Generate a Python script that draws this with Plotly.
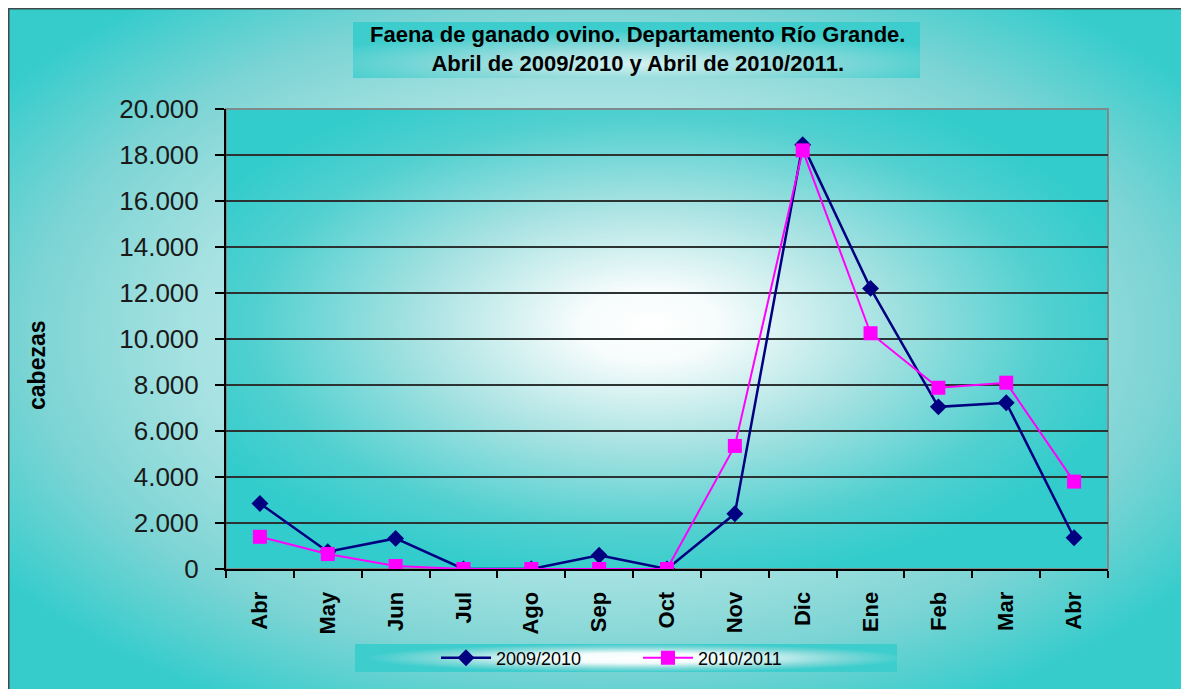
import base64
import plotly.graph_objects as go

# ---- data ----
months = ["Abr", "May", "Jun", "Jul", "Ago", "Sep", "Oct", "Nov", "Dic", "Ene", "Feb", "Mar", "Abr"]
serie_2009_2010 = [2850, 750, 1330, 0, 0, 600, 0, 2400, 18450, 12200, 7050, 7230, 1360]
serie_2010_2011 = [1400, 650, 130, 0, 0, 0, 0, 5350, 18200, 10250, 7880, 8100, 3800]
y_ticks = [0, 2000, 4000, 6000, 8000, 10000, 12000, 14000, 16000, 18000, 20000]

# ---- layout geometry (page pixels; the page body has an 8px margin) ----
OFF = 8
PW, PH = 1189, 689
FW, FH = PW - OFF, PH - OFF
L, T, R, B = 226, 109, 1108, 569          # plot area, page coordinates
W, H = R - L, B - T


def fx(px):
    return (px - L) / W


def fy(py):
    return 1 - (py - T) / H


def svg_uri(svg):
    return "data:image/svg+xml;base64," + base64.b64encode(svg.encode()).decode()


def radial_svg(cx, cy, r, stops):
    st = "".join(f'<stop offset="{o}" stop-color="{c}"/>' for o, c in stops)
    return svg_uri(
        '<svg xmlns="http://www.w3.org/2000/svg" width="400" height="400" viewBox="0 0 400 400" preserveAspectRatio="none">'
        f'<defs><radialGradient id="g" cx="{cx}" cy="{cy}" r="{r}">{st}</radialGradient></defs>'
        '<rect x="0" y="0" width="400" height="400" fill="url(#g)"/></svg>'
    )


x_idx = list(range(len(months)))

fig = go.Figure()
fig.add_trace(go.Scatter(
    x=x_idx, y=serie_2009_2010, name="2009/2010", mode="lines+markers",
    line=dict(color="#000080", width=2.5),
    marker=dict(symbol="diamond", size=13, color="#000080"),
))
fig.add_trace(go.Scatter(
    x=x_idx, y=serie_2010_2011, name="2010/2011", mode="lines+markers",
    line=dict(color="#FF00FF", width=2),
    marker=dict(symbol="square", size=14, color="#FF00FF"),
))

sans = "Liberation Sans, Arial"

images = [
    # outer chart area
    dict(source=radial_svg(0.5, 0.48, 0.62, [(0, "#E0F5F5"), (0.55, "#A8E2E2"), (0.78, "#7CD4D4"), (1, "#36CCCC")]),
         xref="paper", yref="paper", x=fx(OFF), y=fy(OFF), sizex=FW / W, sizey=FH / H,
         sizing="stretch", layer="below", xanchor="left", yanchor="top"),
    # plot area
    dict(source=radial_svg(0.48, 0.47, 0.56, [(0, "#FFFFFF"), (0.14, "#F7FCFC"), (0.47, "#A8E2E2"), (0.8, "#52D0D0"), (1, "#33CCCC")]),
         xref="paper", yref="paper", x=0, y=1, sizex=1, sizey=1,
         sizing="stretch", layer="below", xanchor="left", yanchor="top"),
    # title box
    dict(source=radial_svg(0.5, 0.75, 0.6, [(0, "#D6F2F2"), (0.5, "#8EDADA"), (1, "#3ECDCD")]),
         xref="paper", yref="paper", x=fx(353), y=fy(22), sizex=(920 - 353) / W, sizey=(78 - 22) / H,
         sizing="stretch", layer="below", xanchor="left", yanchor="top"),
    # legend box
    dict(source=radial_svg(0.52, 0.5, 0.5, [(0, "#FFFFFF"), (0.35, "#F4FCFC"), (0.75, "#80D8D8"), (1, "#3ECDCD")]),
         xref="paper", yref="paper", x=fx(355), y=fy(644), sizex=(897 - 355) / W, sizey=(672 - 644) / H,
         sizing="stretch", layer="below", xanchor="left", yanchor="top"),
]

shapes = [
    # outer frame (top and left edges)
    dict(type="line", xref="paper", yref="paper", x0=fx(OFF), x1=fx(PW + 5), y0=fy(OFF + 0.5), y1=fy(OFF + 0.5),
         line=dict(color="#404848", width=2)),
    dict(type="line", xref="paper", yref="paper", x0=fx(OFF + 0.5), x1=fx(OFF + 0.5), y0=fy(OFF), y1=fy(PH + 5),
         line=dict(color="#404848", width=2)),
    # plot area grey border (top/right)
    dict(type="rect", xref="paper", yref="paper", x0=0, x1=1, y0=0, y1=1,
         line=dict(color="#7f8a8a", width=2), layer="below"),
]

annotations = [
    dict(text="<b>Faena de ganado ovino. Departamento Río Grande.<br>Abril de 2009/2010 y Abril de 2010/2011.</b>",
         xref="paper", yref="paper", x=fx(637), y=fy(49), xanchor="center", yanchor="middle",
         showarrow=False, font=dict(family=sans, size=22, color="#000000"), align="center"),
    dict(text="<b>cabezas</b>", textangle=-90, xref="paper", yref="paper", x=fx(37), y=fy(365),
         xanchor="center", yanchor="middle", showarrow=False,
         font=dict(family=sans, size=23, color="#000000")),
]

fig.update_layout(
    width=FW, height=FH,
    margin=dict(l=L - OFF, r=PW - R, t=T - OFF, b=PH - B, pad=0),
    paper_bgcolor="#FFFFFF",
    plot_bgcolor="rgba(0,0,0,0)",
    separators=",.",
    images=images,
    shapes=shapes,
    annotations=annotations,
    showlegend=True,
    legend=dict(orientation="h", xref="paper", yref="paper", x=fx(638), y=fy(658),
                xanchor="center", yanchor="middle", bgcolor="rgba(0,0,0,0)",
                font=dict(family=sans, size=18, color="#000000"),
                entrywidth=137, entrywidthmode="pixels", itemwidth=50),
    xaxis=dict(
        range=[-0.5, len(months) - 0.5], tickmode="array", tickvals=x_idx, ticktext=months,
        tickangle=-90, ticks="", showgrid=False, zeroline=False,
        showline=True, linecolor="#000000", linewidth=2,
        tickfont=dict(family=sans, size=22, color="#000000", weight="bold"),
        ticklabelstandoff=12,
        minor=dict(ticks="outside", tick0=-0.5, dtick=1, ticklen=7, tickcolor="#000000",
                   tickwidth=1.5, showgrid=False),
    ),
    yaxis=dict(
        range=[0, 20000], tickmode="array", tickvals=y_ticks, tickformat=",d",
        ticks="outside", ticklen=9, tickcolor="#000000", tickwidth=1.5,
        showgrid=True, gridcolor="#2b3333", gridwidth=1.6, zeroline=False,
        showline=True, linecolor="#000000", linewidth=2,
        tickfont=dict(family=sans, size=26, color="#1a1a1a"),
        ticklabelstandoff=11,
    ),
)

fig.write_html("out.html")
